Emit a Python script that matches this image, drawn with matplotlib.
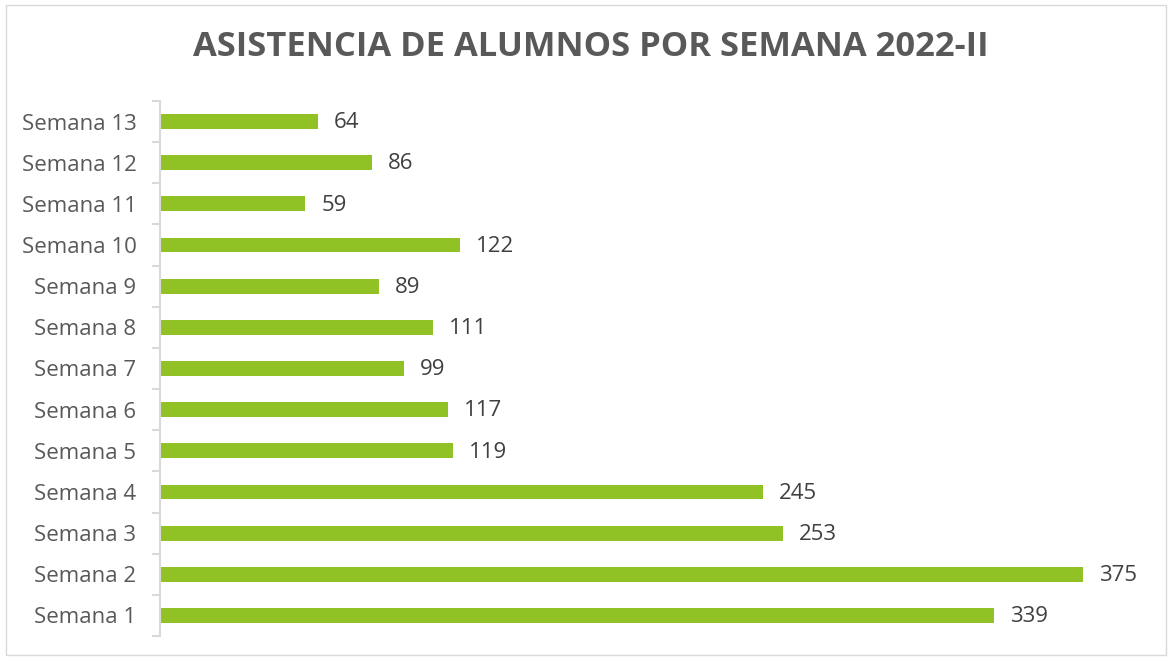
import matplotlib.pyplot as plt
from matplotlib.patches import Rectangle

semanas = ['Semana 1', 'Semana 2', 'Semana 3', 'Semana 4', 'Semana 5', 'Semana 6', 'Semana 7',
           'Semana 8', 'Semana 9', 'Semana 10', 'Semana 11', 'Semana 12', 'Semana 13']
asistencia = [339, 375, 253, 245, 119, 117, 99, 111, 89, 122, 59, 86, 64]

plt.rcParams['font.family'] = ['Open Sans', 'DejaVu Sans']

fig = plt.figure(figsize=(11.71, 6.61), dpi=100)
ax = fig.add_axes([160 / 1171, 1 - 636 / 661, 990 / 1171, 535 / 661])

y = list(range(len(semanas)))
bars = ax.barh(y, asistencia, height=0.36, color='#90C226')

# etiquetas de valores
for b, v in zip(bars, asistencia):
    ax.text(b.get_width() + 6.5, b.get_y() + b.get_height() / 2 - 0.03, str(v),
            va='center', ha='left', fontsize=16, color='#404040')

ax.set_xlim(0, 990 / 2.461)
ax.set_ylim(-0.5, len(semanas) - 0.5)
ax.set_yticks(y)
ax.set_yticklabels(semanas, fontsize=16, color='#595959')
ax.set_yticks([i - 0.5 for i in range(len(semanas) + 1)], minor=True)
ax.tick_params(axis='y', which='major', length=0, pad=17)
ax.tick_params(axis='y', which='minor', length=6, color='#D9D9D9', width=1.5)
ax.set_xticks([])
for s in ['top', 'right', 'bottom']:
    ax.spines[s].set_visible(False)
ax.spines['left'].set_color('#D9D9D9')
ax.spines['left'].set_linewidth(1.5)

fig.text(591 / 1171, 1 - 47 / 661, 'ASISTENCIA DE ALUMNOS POR SEMANA 2022-II',
         ha='center', va='center', fontsize=24.8, fontweight='bold', color='#595959')

# borde del gráfico
fig.patches.append(Rectangle((6 / 1171, 6 / 661), 1160 / 1171, 650 / 661,
                             transform=fig.transFigure, fill=False,
                             edgecolor='#D9D9D9', linewidth=1))

fig.savefig('out.png', dpi=100)
